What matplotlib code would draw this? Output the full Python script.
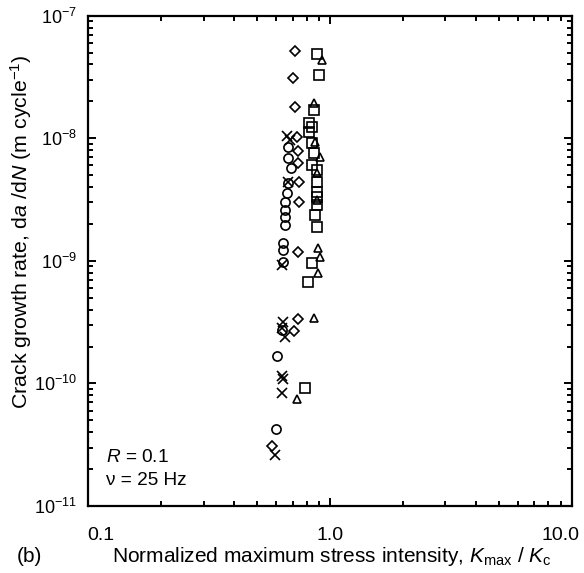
import matplotlib
matplotlib.use("Agg")
import matplotlib.pyplot as plt
import matplotlib.transforms as mtransforms
from matplotlib.ticker import LogLocator, FixedLocator, FixedFormatter, NullFormatter

plt.rcParams['font.family'] = ['Liberation Sans', 'DejaVu Sans']
plt.rcParams['mathtext.fontset'] = 'custom'
plt.rcParams['mathtext.rm'] = 'Liberation Sans'
plt.rcParams['mathtext.it'] = 'Liberation Sans:italic'
plt.rcParams['mathtext.bf'] = 'Liberation Sans:bold'

# ---- data (K_max/K_c, da/dN in m/cycle) ----
diamond_x = [0.714, 0.701, 0.717, 0.728, 0.735, 0.735, 0.746, 0.746, 0.739, 0.739, 0.710, 0.574]
diamond_y = [5.18e-8, 3.12e-8, 1.79e-8, 1.03e-8, 7.93e-9, 6.25e-9, 4.43e-9, 3.04e-9, 1.19e-9, 3.34e-10, 2.70e-10, 3.09e-11]

circle_x = [0.672, 0.672, 0.690, 0.672, 0.662, 0.651, 0.651, 0.651, 0.651, 0.641, 0.641, 0.641, 0.631, 0.602, 0.596]
circle_y = [8.54e-9, 6.87e-9, 5.69e-9, 4.30e-9, 3.56e-9, 3.04e-9, 2.60e-9, 2.29e-9, 1.96e-9, 1.39e-9, 1.23e-9, 9.85e-10, 2.73e-10, 1.66e-10, 4.23e-11]

cross_x = [0.662, 0.683, 0.672, 0.631, 0.641, 0.631, 0.651, 0.631, 0.641, 0.631, 0.592]
cross_y = [1.04e-8, 9.68e-9, 4.43e-9, 9.26e-10, 3.19e-10, 2.82e-10, 2.41e-10, 1.14e-10, 1.08e-10, 8.31e-11, 2.61e-11]

square_x = [0.881, 0.901, 0.861, 0.819, 0.845, 0.819, 0.840, 0.861, 0.840, 0.881, 0.881, 0.881, 0.881, 0.881, 0.867, 0.881, 0.840, 0.813, 0.788]
square_y = [4.87e-8, 3.28e-8, 1.70e-8, 1.34e-8, 1.24e-8, 1.13e-8, 9.10e-9, 7.55e-9, 6.05e-9, 5.51e-9, 4.43e-9, 3.67e-9, 3.34e-9, 2.86e-9, 2.37e-9, 1.90e-9, 9.56e-10, 6.76e-10, 9.14e-11]

triangle_x = [0.929, 0.856, 0.867, 0.909, 0.881, 0.881, 0.895, 0.909, 0.889, 0.861, 0.728]
triangle_y = [4.35e-8, 1.93e-8, 9.38e-9, 7.08e-9, 5.18e-9, 3.14e-9, 1.27e-9, 1.08e-9, 7.93e-10, 3.40e-10, 7.43e-11]

x_ticks = [0.1, 1.0, 10.0]
x_tick_labels = ['0.1', '1.0', '10.0']
y_ticks = [1e-11, 1e-10, 1e-9, 1e-8, 1e-7]
y_tick_labels = [r'$10^{-11}$', r'$10^{-10}$', r'$10^{-9}$', r'$10^{-8}$', r'$10^{-7}$']

fig = plt.figure(figsize=(5.84, 5.73), dpi=100)
ax = fig.add_axes([0.1512, 0.1169, 0.8277, 0.8557])

mk = dict(linestyle='none', markerfacecolor='none', markeredgecolor='black', markeredgewidth=1.2)
ax.plot(circle_x, circle_y, marker='o', markersize=6.6, **mk)
ax.plot(diamond_x, diamond_y, marker='D', markersize=5.2, **mk)
ax.plot(square_x, square_y, marker='s', markersize=6.6, **mk)
ax.plot(triangle_x, triangle_y, marker='^', markersize=5.2, **mk)
ax.plot(cross_x, cross_y, marker='x', markersize=6.6, color='black', linestyle='none', markeredgewidth=1.2)

ax.set_xscale('log')
ax.set_yscale('log')
ax.set_xlim(0.1, 10.0)
ax.set_ylim(1e-11, 1e-7)

ax.xaxis.set_major_locator(FixedLocator(x_ticks))
ax.xaxis.set_major_formatter(FixedFormatter(x_tick_labels))
ax.yaxis.set_major_locator(FixedLocator(y_ticks))
ax.yaxis.set_major_formatter(FixedFormatter(y_tick_labels))
ax.xaxis.set_minor_locator(LogLocator(base=10, subs=range(2, 10)))
ax.yaxis.set_minor_locator(LogLocator(base=10, subs=range(2, 10)))
ax.xaxis.set_minor_formatter(NullFormatter())
ax.yaxis.set_minor_formatter(NullFormatter())

ax.tick_params(which='both', direction='in', top=True, right=True, width=1.4, colors='black')
ax.tick_params(which='major', length=6)
ax.tick_params(which='minor', length=3.5)
ax.tick_params(axis='x', which='major', labelsize=14, pad=15)
ax.tick_params(axis='y', which='major', labelsize=13, pad=8)
for s in ax.spines.values():
    s.set_linewidth(1.6)

# shift outer x tick labels like in the reference
fig.canvas.draw()
xlabels = ax.get_xticklabels()
xlabels[0].set_transform(xlabels[0].get_transform() + mtransforms.ScaledTranslation(13 / 100, 0, fig.dpi_scale_trans))
xlabels[-1].set_transform(xlabels[-1].get_transform() + mtransforms.ScaledTranslation(-11 / 100, 0, fig.dpi_scale_trans))

ax.set_ylabel(r'Crack growth rate, d$a$ /d$N$ (m cycle$^{-1}$)', fontsize=15.4)
ax.yaxis.set_label_coords(-0.113, 0.56)

ax.text(0.037, 0.098, r'$R$ = 0.1', transform=ax.transAxes, fontsize=13.7, va='center', ha='left')
ax.text(0.037, 0.053, 'ν = 25 Hz', transform=ax.transAxes, fontsize=13.7, va='center', ha='left')

fig.text(0.568, 1 - 556/573, r'Normalized maximum stress intensity, $K_{\rm max}$ / $K_{\rm c}$',
         fontsize=15, ha='center', va='center')
fig.text(0.029, 1 - 556/573, '(b)', fontsize=15, ha='left', va='center')

fig.savefig('out.png', dpi=100)
